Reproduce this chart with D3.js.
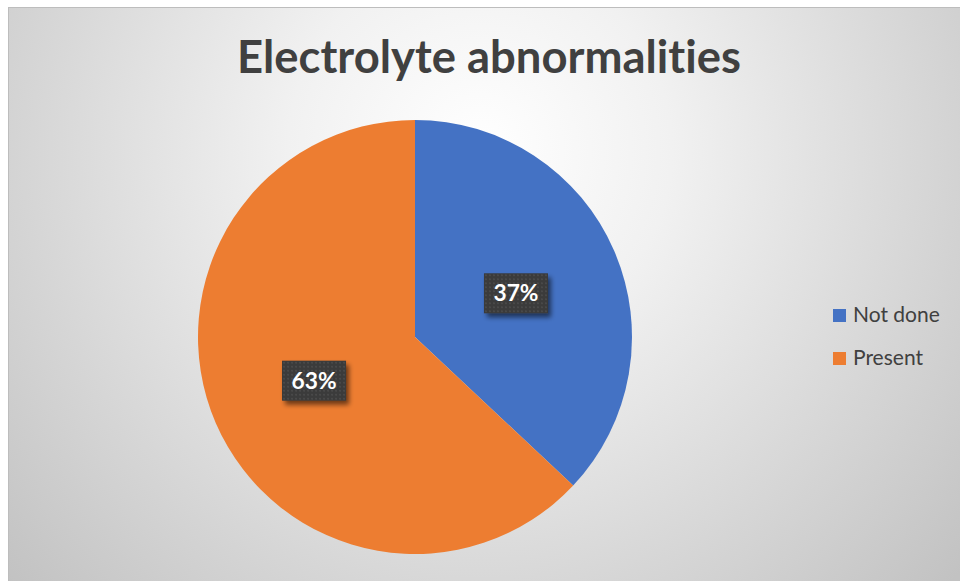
<!DOCTYPE html>
<html>
<head>
<meta charset="utf-8">
<script src="https://cdn.jsdelivr.net/npm/d3@7"></script>
<style>
  html, body { margin: 0; padding: 0; background: #ffffff; }
  svg { display: block; }
  text { font-variant-ligatures: none; font-feature-settings: "liga" 0, "clig" 0; }
</style>
</head>
<body>
<svg id="chart" width="960" height="581"></svg>
<script>
// Chart data
const categories = ["Not done", "Present"];
const values = [37, 63];
const colors = ["#4472C4", "#ED7D31"];
const title = "Electrolyte abnormalities";

const W = 960, H = 581;
const svg = d3.select("#chart");
const defs = svg.append("defs");

// Soft radial background of the chart area
const bg = defs.append("radialGradient")
  .attr("id", "bgGrad")
  .attr("gradientUnits", "userSpaceOnUse")
  .attr("cx", 480).attr("cy", 150).attr("r", 640)
  .attr("fx", 480).attr("fy", 150);
bg.append("stop").attr("offset", "0%").attr("stop-color", "#ffffff");
bg.append("stop").attr("offset", "30%").attr("stop-color", "#f1f1f1");
bg.append("stop").attr("offset", "70%").attr("stop-color", "#d6d6d6");
bg.append("stop").attr("offset", "100%").attr("stop-color", "#c2c2c2");

// Dotted texture for data label boxes
const pat = defs.append("pattern")
  .attr("id", "dots")
  .attr("patternUnits", "userSpaceOnUse")
  .attr("width", 4).attr("height", 4);
pat.append("rect").attr("width", 4).attr("height", 4).attr("fill", "#3a3a3a");
pat.append("circle").attr("cx", 2).attr("cy", 2).attr("r", 0.8).attr("fill", "#5a5a5a");

// Drop shadow for label boxes
const sh = defs.append("filter").attr("id", "shadow")
  .attr("x", "-30%").attr("y", "-30%").attr("width", "160%").attr("height", "170%");
sh.append("feGaussianBlur").attr("in", "SourceAlpha").attr("stdDeviation", 2.5).attr("result", "b");
sh.append("feOffset").attr("in", "b").attr("dx", 3).attr("dy", 4).attr("result", "o");
sh.append("feComponentTransfer").attr("in", "o").attr("result", "s")
  .append("feFuncA").attr("type", "linear").attr("slope", 0.55);
const m = sh.append("feMerge");
m.append("feMergeNode").attr("in", "s");
m.append("feMergeNode").attr("in", "SourceGraphic");

// Chart area
svg.append("rect")
  .attr("x", 8.5).attr("y", 7.5)
  .attr("width", W).attr("height", H)
  .attr("fill", "url(#bgGrad)")
  .attr("stroke", "#bdbdbd").attr("stroke-width", 1);

// Title
svg.append("text")
  .attr("x", 489).attr("y", 73)
  .attr("text-anchor", "middle")
  .attr("font-family", "Lato, 'Open Sans', sans-serif")
  .attr("font-weight", "bold")
  .attr("font-size", 45)
  .attr("fill", "#404040")
  .attr("textLength", 504)
  .attr("lengthAdjust", "spacingAndGlyphs")
  .text(title);

// Pie
const cx = 415, cy = 337, radius = 217;
const pie = d3.pie().sort(null).value(d => d.value);
const arcs = pie(categories.map((c, i) => ({ name: c, value: values[i] })));
const arc = d3.arc().innerRadius(0).outerRadius(radius);
const labelArc = d3.arc().innerRadius(radius * 0.507).outerRadius(radius * 0.507);

const g = svg.append("g").attr("transform", `translate(${cx},${cy})`);
g.selectAll("path.slice")
  .data(arcs)
  .join("path")
  .attr("class", "slice")
  .attr("d", arc)
  .attr("fill", (d, i) => colors[i]);

// Data labels
const total = d3.sum(values);
const lbl = g.selectAll("g.lbl")
  .data(arcs)
  .join("g")
  .attr("class", "lbl")
  .attr("transform", d => {
    const [x, y] = labelArc.centroid(d);
    return `translate(${x},${y})`;
  });
lbl.append("rect")
  .attr("x", -32).attr("y", -20)
  .attr("width", 64).attr("height", 40)
  .attr("fill", "url(#dots)")
  .attr("filter", "url(#shadow)");
lbl.append("text")
  .attr("text-anchor", "middle")
  .attr("y", 8)
  .attr("font-family", "Lato, 'Open Sans', sans-serif")
  .attr("font-weight", "bold")
  .attr("font-size", 22)
  .attr("fill", "#ffffff")
  .attr("textLength", 45)
  .attr("lengthAdjust", "spacingAndGlyphs")
  .text(d => Math.round(d.data.value / total * 100) + "%");

// Legend
const legend = svg.append("g");
const items = legend.selectAll("g.item")
  .data(categories)
  .join("g")
  .attr("class", "item")
  .attr("transform", (d, i) => `translate(833,${309 + i * 43})`);
items.append("rect")
  .attr("width", 13).attr("height", 13)
  .attr("fill", (d, i) => colors[i]);
items.append("text")
  .attr("x", 20).attr("y", 13)
  .attr("font-family", "Lato, 'Open Sans', sans-serif")
  .attr("font-size", 21)
  .attr("fill", "#404040")
  .text(d => d);
</script>
</body>
</html>
